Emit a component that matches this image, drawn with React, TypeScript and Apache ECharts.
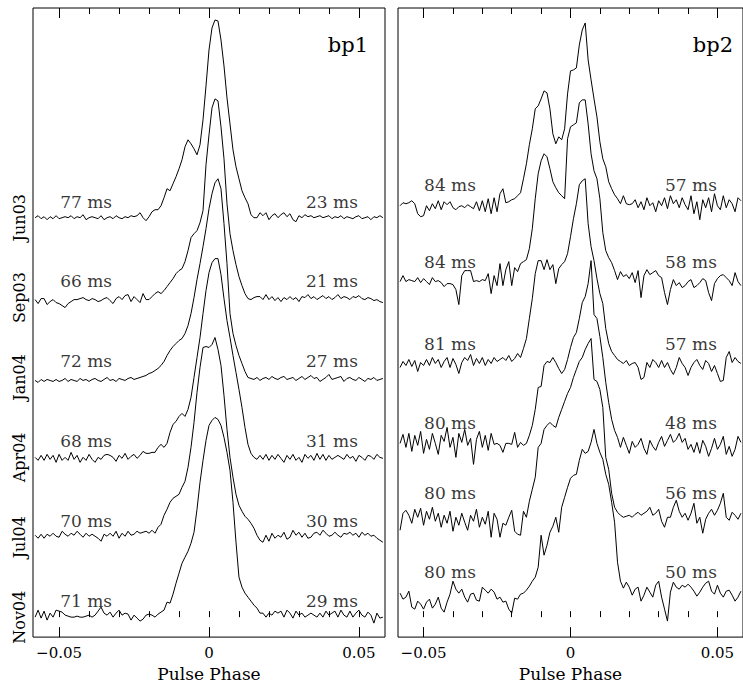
import React, { useEffect, useRef } from "react";
import * as echarts from "echarts";

// ---------- data ----------
// phase bins: -0.058 ... +0.058, step 0.001 (117 bins)
const PHASE_START = -0.058;
const PHASE_STEP = 0.001;

const months = ["Jun03", "Sep03", "Jan04", "Apr04", "Jul04", "Nov04"];
const offsets = [2.0, 1.6, 1.2, 0.8, 0.4, 0.0];

const bp1LeadMs = [77, 66, 72, 68, 70, 71];
const bp1TrailMs = [23, 21, 27, 31, 30, 29];
const bp2LeadMs = [84, 84, 81, 80, 80, 80];
const bp2TrailMs = [57, 58, 57, 48, 56, 50];

const xTickValues = [-0.05, -0.04, -0.03, -0.02, -0.01, 0, 0.01, 0.02, 0.03, 0.04, 0.05];
const xLabelValues = [-0.05, 0, 0.05];

// normalised pulse profiles (relative to their own offset)
const bp1Jun03 = [
  0.0, 0.01, -0.005, 0.005, -0.01, 0.005, -0.005, 0.01, -0.005, 0.0,
  0.005, 0.0, 0.01, -0.005, 0.005, 0.0, 0.015, -0.01, 0.0, 0.005,
  0.0, -0.005, 0.01, -0.01, 0.0, 0.005, -0.005, 0.01, 0.0, -0.005,
  0.005, 0.0, 0.01, 0.005, 0.01, 0.025, 0.0, -0.015, 0.005, 0.03,
  0.04, 0.04, 0.06, 0.1, 0.145, 0.135, 0.17, 0.205, 0.245, 0.29,
  0.355, 0.39, 0.37, 0.345, 0.315, 0.365, 0.49, 0.66, 0.84, 0.95,
  0.99, 0.985, 0.89, 0.76, 0.6, 0.47, 0.34, 0.255, 0.195, 0.135,
  0.1, 0.07, 0.015, 0.0, 0.0, 0.025, 0.01, 0.025, -0.01, 0.01,
  0.02, 0.0, 0.015, 0.025, 0.005, 0.02, -0.01, -0.02, 0.01, 0.0,
  0.015, 0.005, 0.01, 0.0, 0.005, 0.01, 0.0, 0.005, 0.01, -0.005,
  0.005, 0.0, 0.01, -0.005, 0.005, 0.0, -0.005, 0.005, 0.01, -0.005,
  0.0, 0.005, -0.01, 0.005, 0.0, 0.01, 0.0,
];
const bp1Sep03 = [
  -0.01, -0.03, -0.005, -0.005, -0.035, -0.02, -0.01, -0.025, -0.03, -0.04,
  -0.05, -0.03, -0.02, -0.01, -0.01, -0.005, 0.0, -0.01, -0.015, -0.005,
  -0.01, -0.02, -0.015, -0.005, 0.0, -0.015, -0.03, -0.005, 0.005, -0.01,
  0.01, 0.015, -0.02, 0.005, -0.01, -0.025, 0.02, -0.01, -0.01, 0.005,
  0.02, 0.03, 0.02, 0.035, 0.055, 0.075, 0.095, 0.12, 0.135, 0.145,
  0.18, 0.235, 0.3, 0.32, 0.335, 0.375, 0.435, 0.665, 0.815, 0.95,
  0.995, 0.985, 0.855, 0.695, 0.47, 0.32, 0.235, 0.165, 0.105, 0.06,
  0.02, -0.005, -0.01, 0.0, 0.005,
  0.005, -0.01, 0.015, -0.01, 0.005, -0.015, 0.0, -0.02, 0.0, -0.01,
  0.005, -0.01, 0.0, -0.02, 0.005, 0.0, 0.015, -0.005, 0.005, -0.01,
  0.0, 0.01, -0.005, 0.005, -0.01, 0.0, 0.015, -0.005, 0.005, 0.0,
  -0.01, 0.005, 0.0, 0.01, -0.005, -0.01, 0.0, -0.005, -0.015, -0.01,
  -0.02, -0.025,
];
const bp1Jan04 = [
  -0.015, -0.025, -0.01, -0.02, -0.01, -0.015, -0.02, -0.01, -0.02, -0.015,
  -0.005, -0.02, -0.01, -0.015, -0.02, -0.005, -0.015, -0.01, -0.02, -0.01,
  -0.005, -0.015, -0.02, -0.01, 0.0, -0.015, -0.01, -0.02, -0.005, -0.01,
  -0.015, -0.005, 0.0, -0.01, -0.005, 0.0, 0.005, 0.01, 0.02, 0.025,
  0.035, 0.045, 0.06, 0.08, 0.11, 0.135, 0.155, 0.17, 0.185, 0.195,
  0.22, 0.26, 0.32, 0.4, 0.49, 0.57, 0.655, 0.745, 0.845, 0.92,
  0.975, 0.995, 0.945, 0.77, 0.57, 0.32, 0.22, 0.16, 0.11, 0.07,
  0.03, 0.0,
  -0.005, -0.01, 0.0, -0.015, -0.005, 0.0, -0.01, 0.005, -0.005, -0.01,
  0.0, 0.005, -0.01, -0.005, 0.0, -0.015, -0.005, 0.005, -0.01, 0.0,
  0.01, -0.005, 0.0, -0.02, -0.01, 0.0, 0.015, -0.01, -0.005, 0.0,
  0.005, -0.02, -0.005, 0.0, -0.01, -0.015, 0.0, -0.01, -0.02, -0.005,
  -0.01, 0.0, -0.015, -0.01, -0.005,
];
const bp1Apr04 = [
  0.0, -0.015, 0.01, -0.015, 0.015, -0.01, 0.01, -0.025, 0.015, -0.015,
  0.0, -0.015, 0.025, -0.01, 0.01, -0.025, 0.0, -0.015, 0.015, -0.01,
  -0.025, 0.0, -0.01, 0.01, 0.015, 0.01, 0.0, -0.02, 0.01, -0.005,
  0.02, -0.01, 0.005, 0.015, -0.005, 0.01, 0.03, 0.02,
  0.02, 0.025, 0.025, 0.05, 0.065, 0.05, 0.07, 0.125, 0.165, 0.18, 0.205, 0.22,
  0.205, 0.24, 0.3, 0.4, 0.5, 0.6, 0.72, 0.835, 0.925, 0.975,
  0.995, 0.995, 0.915, 0.795, 0.685, 0.6, 0.51, 0.425, 0.34, 0.25,
  0.15, 0.065, 0.02, 0.0,
  -0.01, 0.01, -0.01, 0.015, -0.015, 0.01, -0.01, 0.015, -0.005, -0.025,
  0.01, -0.01, 0.015, -0.015, 0.0, -0.025, 0.015, -0.005, 0.01, -0.015,
  0.02, -0.01, 0.015, -0.015, 0.01, -0.01, 0.0, 0.01, 0.0, -0.01,
  0.015, -0.005, 0.005, -0.02, 0.01, 0.0, -0.015, 0.01, 0.005, -0.01,
  0.015, 0.0, -0.005,
];
const bp1Jul04 = [
  0.01, -0.005, 0.015, -0.005, 0.015, 0.005, 0.02, 0.005, 0.0, 0.03,
  0.015, 0.005, 0.02, 0.01, 0.03, 0.015, 0.0, 0.02, 0.005, 0.015,
  0.005, -0.005, -0.02, 0.015, 0.005, 0.02, 0.005, 0.03, -0.005, 0.02,
  0.005, 0.03, 0.01, 0.015, 0.03, 0.02, 0.025, 0.03, 0.02, 0.035,
  0.02, 0.05, 0.065, 0.11, 0.14, 0.175, 0.195, 0.205, 0.215, 0.25,
  0.28, 0.35, 0.45, 0.575, 0.725, 0.85, 0.95, 0.955, 0.95, 0.965,
  1.0, 0.94, 0.86, 0.71, 0.54, 0.4, 0.3, 0.215, 0.16, 0.13,
  0.105, 0.09, 0.07, 0.045, 0.01, -0.015,
  -0.025, 0.01, -0.02, 0.02, -0.005, 0.01, 0.0, 0.025, -0.01, 0.0,
  0.035, 0.01, 0.025, 0.0, 0.02, -0.005, 0.0, 0.02, 0.025, 0.01,
  0.035, 0.02, 0.005, 0.01, 0.025, 0.01, 0.0, 0.02, 0.015, 0.025,
  0.01, 0.02, 0.0, 0.025, 0.01, 0.02, 0.005, 0.01, -0.005, -0.015,
  -0.025,
];
const bp1Nov04 = [
  0.0, 0.035, -0.005, 0.03, -0.015, 0.02, 0.0, 0.035, 0.03, 0.025,
  0.01, 0.005, 0.0, 0.0, 0.005, 0.0, 0.0, 0.005, 0.01, 0.0,
  0.01, 0.03, 0.05, 0.02, 0.01, 0.025, 0.0, 0.02, 0.035, 0.01,
  0.02, 0.015, -0.015, 0.01, -0.005, -0.02, -0.01, 0.01, 0.015, 0.01,
  0.0, 0.015, 0.025, 0.035, 0.075, 0.07, 0.115, 0.17, 0.22, 0.27,
  0.3, 0.33, 0.37, 0.425, 0.54, 0.675, 0.785, 0.885, 0.96, 0.985,
  1.0, 0.99, 0.96, 0.9, 0.825, 0.735, 0.575, 0.375, 0.2, 0.15,
  0.12, 0.1, 0.08, 0.06, 0.045, 0.02, 0.02, 0.0,
  0.02, 0.01, 0.03, 0.02, 0.03, 0.0, 0.035, 0.02, -0.005, 0.03,
  0.01, 0.02, 0.0, 0.01, 0.02, 0.01, 0.0, 0.02, 0.0, 0.03,
  0.01, 0.02, 0.03, 0.0, 0.035, 0.01, 0.0, 0.03, 0.0, 0.02,
  0.035, 0.01, 0.0, 0.025, 0.01, -0.03, 0.02, -0.005, 0.0,
];

const bp2Jun03 = [
  0.06, 0.075, 0.07, 0.075, 0.085, 0.07, 0.02, 0.005, 0.01, 0.06,
  0.035, 0.07, 0.045, 0.085, 0.04, 0.08, 0.065, 0.08, 0.05, 0.04,
  0.055, 0.06, 0.05, 0.065, 0.055, 0.045, 0.08, 0.035, 0.085, 0.03,
  0.095, 0.02, 0.1, 0.03, 0.12, 0.145, 0.075, 0.08, 0.09, 0.095,
  0.11, 0.125, 0.195, 0.27, 0.365, 0.445, 0.545, 0.56, 0.595, 0.635,
  0.625, 0.545, 0.42, 0.37, 0.405, 0.39, 0.445, 0.62, 0.735, 0.74,
  0.75, 0.865, 0.94, 0.975, 0.79, 0.69, 0.595, 0.505, 0.38, 0.295,
  0.255, 0.18, 0.145, 0.115, 0.095, 0.07, 0.11, 0.07, 0.065, 0.07,
  0.09, 0.05, 0.08, 0.04, 0.1, 0.06, 0.075, 0.03, 0.085, 0.06,
  0.1, 0.045, 0.11, 0.07, 0.09, 0.05, 0.1, 0.065, 0.04, 0.11,
  0.02, 0.08, -0.01, 0.09, 0.05, 0.1, 0.03, 0.12, 0.06, 0.04,
  0.11, 0.05, 0.09, 0.07, 0.03, 0.1, 0.085,
];
const bp2Sep03 = [
  0.08, 0.11, 0.08, 0.09, 0.085, 0.08, 0.1, 0.075, 0.095, 0.08,
  0.065, 0.1, 0.08, 0.085, 0.075, 0.055, 0.07, 0.07, 0.065, 0.04,
  -0.035, 0.11, 0.135, 0.135, 0.135, 0.08, 0.085, 0.08, 0.09, 0.085,
  0.12, 0.02, 0.11, 0.06, 0.17, 0.06, 0.14, 0.18, 0.06, 0.15,
  0.13, 0.17, 0.18, 0.19, 0.245, 0.345, 0.495, 0.62, 0.685, 0.72,
  0.705, 0.645, 0.58, 0.55, 0.525, 0.51, 0.495, 0.795, 0.855, 0.865,
  0.875, 0.975, 0.99, 0.99, 0.87, 0.72, 0.635, 0.595, 0.495, 0.325,
  0.235, 0.2, 0.175, 0.135, 0.09, 0.13, 0.105,
  0.115, 0.095, 0.125, 0.075, 0.135, 0.0, 0.11, 0.14, 0.115, 0.125,
  0.135, 0.11, 0.1, 0.025, -0.035, 0.04, 0.09, 0.06, 0.075, 0.05,
  0.06, 0.08, 0.09, 0.05, 0.06, 0.075, 0.095, 0.085, 0.025, -0.015,
  0.07, 0.095, 0.11, 0.115, 0.1, 0.085, 0.06, 0.125, 0.08, 0.06,
];
const bp2Jan04 = [
  0.05, 0.08, 0.06, 0.09, 0.055, 0.085, 0.03, 0.075, 0.06, 0.09,
  0.06, 0.1, 0.07, 0.09, 0.05, 0.08, 0.1, 0.05, 0.095, 0.065,
  0.02, 0.075, 0.1, 0.085, 0.115, 0.06, 0.095, 0.07, 0.1, 0.06,
  0.09, 0.07, 0.1, 0.08, 0.09, 0.1, 0.085, 0.11, 0.08, 0.095,
  0.12, 0.1, 0.145, 0.195, 0.295, 0.395, 0.52, 0.585, 0.585, 0.54,
  0.59, 0.54, 0.565, 0.47, 0.545, 0.565, 0.58, 0.62, 0.705, 0.795,
  0.87, 0.965, 0.985, 0.995, 0.77, 0.655, 0.585, 0.495, 0.42, 0.37,
  0.245, 0.17, 0.13, 0.11, 0.09, 0.08, 0.07, 0.085, 0.06, 0.07,
  0.075, 0.05, -0.01, 0.0, 0.075, 0.05, 0.09, 0.075, 0.05, 0.085,
  0.05, 0.075, 0.04, 0.015, 0.05, 0.1, 0.07, 0.05, 0.01, 0.05,
  0.075, 0.09, 0.06, 0.04, 0.085, 0.07, 0.03, 0.06, 0.02, -0.02,
  -0.015, 0.1, 0.13, 0.075, 0.1, 0.08, 0.07,
];
const bp2Apr04 = [
  0.07, 0.115, 0.05, 0.12, 0.03, 0.11, 0.06, 0.13, 0.02, 0.09,
  0.04, 0.12, 0.07, 0.015, 0.11, 0.08, 0.15, 0.05, 0.1, 0.0,
  0.12, 0.075, 0.14, 0.06, 0.095, -0.035, 0.09, 0.13, 0.05, 0.11,
  0.035, 0.12, 0.065, 0.07, 0.06, 0.025, 0.07, 0.07, 0.065, 0.125,
  0.05, 0.075, 0.06, 0.07, 0.11, 0.16, 0.24, 0.35, 0.355, 0.46,
  0.48, 0.475, 0.5, 0.475, 0.445, 0.42, 0.44, 0.49, 0.55, 0.6,
  0.625, 0.695, 0.775, 0.805, 0.87, 0.985, 0.715, 0.695, 0.605, 0.5,
  0.375, 0.275, 0.19, 0.135, 0.1, 0.05, 0.1, 0.06, 0.02, 0.08, 0.05,
  0.065, 0.095, 0.045, 0.015, 0.085, 0.055, 0.035, 0.075, 0.105, 0.055,
  0.085, 0.115, 0.075, 0.09, 0.12, 0.075, 0.095, 0.04, 0.065, 0.025,
  0.075, 0.02, 0.085, 0.055, 0.005, 0.045, 0.095, 0.04, 0.065, 0.105,
  0.015, 0.055, 0.005, 0.04, 0.105, 0.075,
];
const bp2Jul04 = [
  0.035, 0.12, 0.135, 0.11, 0.07, 0.14, 0.1, 0.145, 0.06, 0.13,
  0.09, 0.15, 0.08, 0.12, 0.05, 0.11, 0.07, 0.13, 0.03, 0.1,
  0.06, 0.12, 0.075, 0.035, 0.11, 0.08, 0.14, 0.05, 0.1, 0.065,
  0.13, 0.0, 0.12, 0.09, 0.0, 0.07, 0.06, 0.1, 0.135, 0.03,
  0.015, 0.01, 0.13, 0.1, 0.18, 0.24, 0.3, 0.45, 0.47, 0.54,
  0.56, 0.575, 0.56, 0.55, 0.6, 0.64, 0.68, 0.72, 0.75, 0.8,
  0.84, 0.88, 0.9, 0.94, 0.97, 0.995, 0.79, 0.78, 0.74, 0.65,
  0.4, 0.34, 0.22, 0.15, 0.125, 0.11, 0.1, 0.105, 0.11, 0.1,
  0.115, 0.125, 0.11, 0.12, 0.13, 0.15, 0.11, 0.12, 0.14, 0.08,
  0.05, 0.1, 0.1, 0.15, 0.185, 0.13, 0.1, 0.12, 0.085, 0.12,
  0.17, 0.07, 0.1, 0.02, 0.09, 0.12, 0.14, 0.11, 0.135, 0.17,
  0.22, 0.1, 0.085, 0.125, 0.11, 0.09, 0.12,
];
const bp2Nov04 = [
  0.12, 0.09, 0.1, 0.13, 0.05, 0.04, 0.08, 0.065, 0.04, 0.075,
  0.09, 0.045, 0.065, 0.1, 0.045, 0.025, 0.075, 0.115, 0.18, 0.14,
  0.12, 0.14, 0.1, 0.075, 0.115, 0.12, 0.085, 0.08, 0.15, 0.135,
  0.12, 0.14, 0.125, 0.09, 0.1, 0.075, 0.08, 0.04, 0.02, 0.095,
  0.09, 0.115, 0.12, 0.135, 0.155, 0.18, 0.2, 0.25, 0.41, 0.31,
  0.36, 0.425, 0.455, 0.5, 0.425, 0.55, 0.6, 0.65, 0.695, 0.71,
  0.715, 0.785, 0.84, 0.82, 0.83, 0.875, 0.94, 0.87, 0.825, 0.79,
  0.715, 0.665, 0.575, 0.475, 0.275, 0.18, 0.145, 0.175, 0.15, 0.11,
  0.14, 0.15, 0.08, 0.11, 0.15, 0.125, 0.1, 0.16, 0.18, 0.1,
  0.04, -0.02, 0.125, 0.175, 0.15, 0.14, 0.16, 0.15, 0.165, 0.15,
  0.13, 0.105, 0.125, 0.15, 0.17, 0.18, 0.13, 0.115, 0.16, 0.12,
  0.1, 0.13, 0.135, 0.11, 0.08, 0.1, 0.13,
];

const bp1Profiles = [bp1Jun03, bp1Sep03, bp1Jan04, bp1Apr04, bp1Jul04, bp1Nov04];
const bp2Profiles = [bp2Jun03, bp2Sep03, bp2Jan04, bp2Apr04, bp2Jul04, bp2Nov04];

// ---------- layout / style ----------
const X_MIN = -0.0587;
const X_MAX = 0.0587;
const Y_MIN = -0.1;
const Y_MAX = 3.05;
const LABEL_PHASE = 0.041;
const bp1LabelLift = [0.081, 0.081, 0.081, 0.081, 0.081, 0.081];
const bp2LabelLift = [0.165, 0.18, 0.17, 0.172, 0.222, 0.224];
const FONT = "DejaVu Serif";

const toPoints = (vals: number[], off: number) =>
  vals.map((v, i) => [PHASE_START + i * PHASE_STEP, v + off]);

const fmtPhase = (v: number) =>
  Math.abs(v) < 1e-9 ? "0" : (v < 0 ? "\u2212" : "") + Math.abs(v).toFixed(2);

function makeXAxes(grid: number) {
  const base = {
    gridIndex: grid,
    type: "value" as const,
    min: X_MIN,
    max: X_MAX,
    axisLine: { show: false },
    splitLine: { show: false },
  };
  const tick = (vals: number[], len: number) => ({
    show: true,
    inside: true,
    length: len,
    customValues: vals,
    lineStyle: { color: "#000", width: 1 },
  });
  return [
    {
      ...base,
      position: "bottom",
      axisTick: tick(xTickValues, 6),
      axisLabel: {
        show: true,
        customValues: xLabelValues,
        formatter: fmtPhase,
        color: "#000",
        fontFamily: FONT,
        fontSize: 15,
        margin: 8,
      },
      name: "Pulse Phase",
      nameLocation: "middle",
      nameGap: 27,
      nameTextStyle: { color: "#000", fontFamily: FONT, fontSize: 17 },
    },
    { ...base, position: "bottom", axisTick: tick(xLabelValues, 10), axisLabel: { show: false } },
    { ...base, position: "top", axisTick: tick(xTickValues, 6), axisLabel: { show: false } },
    { ...base, position: "top", axisTick: tick(xLabelValues, 10), axisLabel: { show: false } },
  ];
}

function makeLines(profiles: number[][], xIdx: number, yIdx: number) {
  return profiles.map((p, k) => ({
    type: "line",
    xAxisIndex: xIdx,
    yAxisIndex: yIdx,
    data: toPoints(p, offsets[k]),
    showSymbol: false,
    symbol: "none",
    lineStyle: { color: "#000", width: 1 },
    silent: true,
  }));
}

function makeMsLabels(lead: number[], trail: number[], lift: number[], xIdx: number, yIdx: number) {
  const data: any[] = [];
  lead.forEach((ms, k) => data.push({ value: [-LABEL_PHASE, offsets[k] + lift[k]], name: `${ms} ms` }));
  trail.forEach((ms, k) => data.push({ value: [LABEL_PHASE, offsets[k] + lift[k]], name: `${ms} ms` }));
  return {
    type: "scatter",
    xAxisIndex: xIdx,
    yAxisIndex: yIdx,
    symbol: "circle",
    symbolSize: 1,
    itemStyle: { color: "rgba(0,0,0,0)" },
    silent: true,
    z: 5,
    data,
    label: {
      show: true,
      position: "inside",
      formatter: (p: any) => p.name,
      color: "#000",
      fontFamily: FONT,
      fontSize: 17,
    },
  };
}

export default function App() {
  const ref = useRef<HTMLDivElement>(null);
  useEffect(() => {
    if (!ref.current) return;
    const chart = echarts.init(ref.current, null, { renderer: "svg" });
    const yAxisBase = {
      type: "value" as const,
      min: Y_MIN,
      max: Y_MAX,
      axisLine: { show: false },
      axisTick: { show: false },
      splitLine: { show: false },
    };
    chart.setOption({
      animation: false,
      backgroundColor: "#fff",
      grid: [
        { left: 33, top: 8, width: 352, height: 632, show: true, borderColor: "#000", borderWidth: 1 },
        { left: 398, top: 8, width: 352, height: 632, show: true, borderColor: "#000", borderWidth: 1 },
      ],
      xAxis: [...makeXAxes(0), ...makeXAxes(1)],
      yAxis: [
        {
          ...yAxisBase,
          gridIndex: 0,
          axisLabel: {
            show: true,
            customValues: offsets,
            formatter: (v: number) => months[Math.round((offsets[0] - v) / 0.4)] ?? "",
            rotate: 90,
            margin: 6,
            color: "#000",
            fontFamily: FONT,
            fontSize: 16,
          },
        },
        { ...yAxisBase, gridIndex: 1, axisLabel: { show: false } },
      ],
      graphic: [
        {
          type: "text",
          style: { text: "bp1", x: 368, y: 45, textAlign: "right", textVerticalAlign: "middle", font: `21px "${FONT}"`, fill: "#000" },
        },
        {
          type: "text",
          style: { text: "bp2", x: 733, y: 45, textAlign: "right", textVerticalAlign: "middle", font: `21px "${FONT}"`, fill: "#000" },
        },
      ],
      series: [
        ...makeLines(bp1Profiles, 0, 0),
        ...makeLines(bp2Profiles, 4, 1),
        makeMsLabels(bp1LeadMs, bp1TrailMs, bp1LabelLift, 0, 0),
        makeMsLabels(bp2LeadMs, bp2TrailMs, bp2LabelLift, 4, 1),
      ],
    });
    return () => chart.dispose();
  }, []);
  return (
    <div
      ref={ref}
      style={{ position: "absolute", left: 0, top: 0, width: 743, height: 687, background: "#fff" }}
    />
  );
}
